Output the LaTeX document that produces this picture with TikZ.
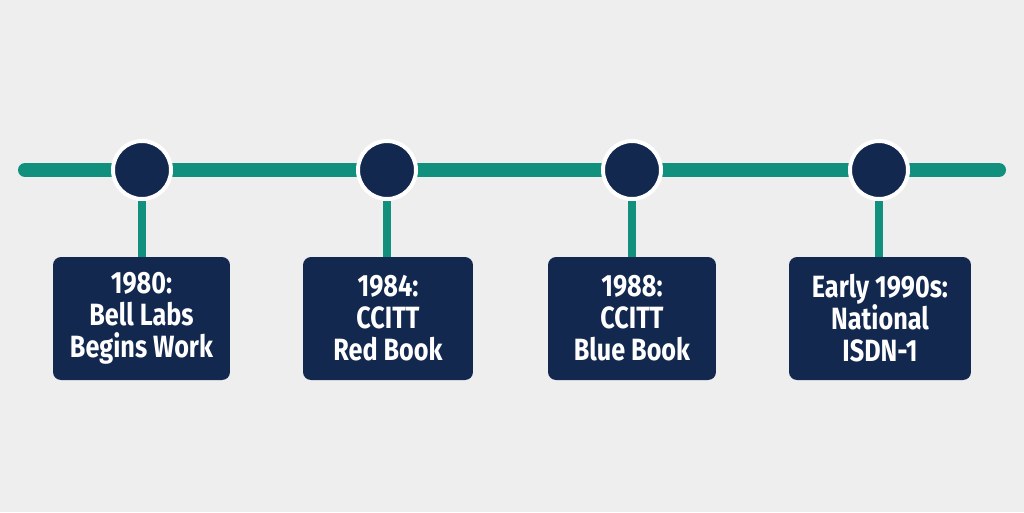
\documentclass[tikz,border=0pt]{standalone}
\usepackage{fontspec}
\setmainfont{Fira Sans}[FakeStretch=0.82,BoldFont={Fira Sans Bold}]
\definecolor{bg}{HTML}{EEEEEE}
\definecolor{teal}{HTML}{12907E}
\definecolor{navy}{HTML}{13284F}
\begin{document}
\begin{tikzpicture}[x=0.02cm,y=-0.02cm,
  track/.style={draw=teal,line width=0.28cm,line cap=round},
  stem/.style={draw=teal,line width=0.16cm},
  dot/.style={circle,fill=navy,draw=white,line width=0.08cm,minimum size=1.16cm,inner sep=0pt},
  card/.style={rounded corners=0.16cm,fill=navy,minimum height=2.46cm,inner sep=0pt,
    text=white,align=center,font=\bfseries\fontsize{17.5}{18.2}\selectfont}]
\fill[bg] (0,0) rectangle (1024,512);
\useasboundingbox (0,0) rectangle (1024,512);
\coordinate (L) at (25,170);
\coordinate (R) at (999,170);
\draw[track] (L) -- (R);
\node[card,minimum width=3.54cm] (b1) at (141.5,318.5) {1980:\\Bell Labs\\Begins Work};
\node[card,minimum width=3.40cm] (b2) at (388,318.5) {1984:\\CCITT\\Red Book};
\node[card,minimum width=3.36cm] (b3) at (632,318.5) {1988:\\CCITT\\Blue Book};
\node[card,minimum width=3.64cm] (b4) at (880,318.5) {Early 1990s:\\National\\ISDN-1};
\coordinate (c1p) at (142,170);
\coordinate (c2p) at (387,170);
\coordinate (c3p) at (632,170);
\coordinate (c4p) at (879,170);
\draw[stem] (c1p) -- (c1p |- b1.north);
\draw[stem] (c2p) -- (c2p |- b2.north);
\draw[stem] (c3p) -- (c3p |- b3.north);
\draw[stem] (c4p) -- (c4p |- b4.north);
\node[dot] (c1) at (c1p) {};
\node[dot] (c2) at (c2p) {};
\node[dot] (c3) at (c3p) {};
\node[dot] (c4) at (c4p) {};
\end{tikzpicture}
\end{document}
